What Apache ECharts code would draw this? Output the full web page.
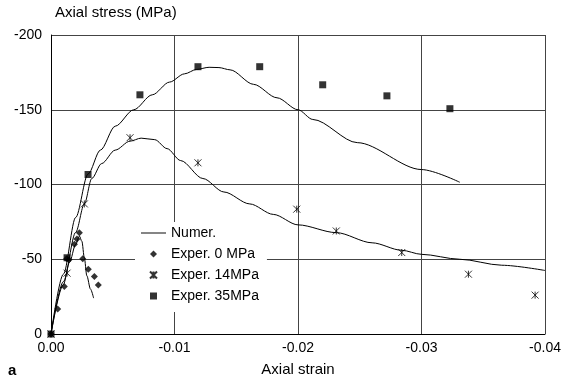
<!DOCTYPE html>
<html>
<head>
<meta charset="utf-8">
<title>Axial stress vs axial strain</title>
<script src="https://cdn.jsdelivr.net/npm/echarts@6/dist/echarts.min.js"></script>
<style>
  html, body { margin: 0; padding: 0; background: #fff; }
  #chart { width: 573px; height: 382px; }
</style>
</head>
<body>
<div id="chart"></div>
<script>
// numerical curves (strain, stress)
const numStrain0 = [0, -0.001, -0.0015, -0.002, -0.0023, -0.0025, -0.0027, -0.0029, -0.0032, -0.00345];
const numStress0 = [0, -33, -48, -60, -65.5, -62, -51, -39, -30, -24];

const numStrain14 = [0, -0.001, -0.002, -0.0027, -0.0033, -0.0041, -0.0052, -0.0064, -0.0073, -0.0084, -0.0094, -0.0105, -0.0123, -0.0140, -0.0161, -0.0180, -0.0200, -0.0231, -0.0260, -0.0284, -0.0300, -0.0331, -0.0365, -0.0400];
const numStress14 = [0, -35, -68, -87, -104, -114, -123, -129, -131, -130, -124, -116, -104, -95, -87, -80, -73, -67.8, -61, -56, -53.3, -50, -46, -42.5];

const numStrain35 = [0, -0.001, -0.002, -0.0030, -0.0040, -0.0052, -0.0067, -0.0082, -0.0096, -0.0108, -0.0118, -0.0128, -0.0136, -0.0145, -0.0164, -0.0183, -0.0200, -0.0212, -0.0248, -0.0300, -0.0331];
const numStress35 = [0, -40, -78, -107, -123, -139, -150, -160, -168.5, -174, -177, -178.4, -178.2, -176.7, -167, -158, -150, -143.5, -128, -110, -101.5];

// experimental points
const expStrain0 = [0, -0.00054, -0.00108, -0.00127, -0.00146, -0.0019, -0.0021, -0.0023, -0.00257, -0.00302, -0.00351, -0.00383];
const expStress0 = [0, -16.7, -31.8, -50.4, -49.6, -60, -63.5, -67.8, -50.4, -43.3, -38.4, -32.7];

const expStrain14 = [0, -0.0013, -0.0027, -0.0064, -0.0119, -0.0199, -0.0231, -0.0284, -0.0338, -0.0392];
const expStress14 = [0, -40.7, -87, -131.3, -114.5, -83.5, -68.9, -54.5, -40, -26];

const expStrain35 = [0, -0.0013, -0.0030, -0.0072, -0.0119, -0.0169, -0.0220, -0.0272, -0.0323];
const expStress35 = [0, -51, -106.7, -160, -178.8, -178.8, -166.7, -159.3, -150.7];

const xTicks = [0, -0.01, -0.02, -0.03, -0.04];
const yTicks = [0, -50, -100, -150, -200];

const zip = (xs, ys) => xs.map((x, i) => [x, ys[i]]);

const fontFamily = "'Liberation Sans', Arial, sans-serif";
// marker shapes as paths so the legend keeps their aspect
const starPath = "path://M0,0L10,10M10,0L0,10M5,0L5,10";
const diamondPath = "path://M5,0L10,5L5,10L0,5Z";
const squarePath = "path://M0,0L10,0L10,10L0,10Z";
const linePath = "path://M0,0L26,0L26,1L0,1Z";

const chart = echarts.init(document.getElementById("chart"));

const lineStyle = { color: "#000", width: 1 };
const numSeries = (data) => ({
  name: "Numer.",
  type: "line",
  data: data,
  showSymbol: false,
  symbol: "none",
  smooth: 0.3,
  smoothMonotone: "x",
  lineStyle: lineStyle,
  itemStyle: { color: "#000" },
  z: 3,
});

const option = {
  animation: false,
  textStyle: { fontFamily: fontFamily, color: "#000" },
  grid: { left: 51, right: 28, top: 35, bottom: 47, containLabel: false },
  legend: {
    orient: "vertical",
    left: 135,
    top: 222,
    padding: [4, 8, 9, 6],
    itemGap: 7,
    itemWidth: 25,
    itemHeight: 7,
    symbolKeepAspect: true,
    backgroundColor: "#fff",
    textStyle: { fontSize: 14, color: "#000", fontFamily: fontFamily },
    data: [
      { name: "Numer.", icon: linePath },
      { name: "Exper. 0 MPa", icon: diamondPath },
      { name: "Exper. 14MPa", icon: starPath },
      { name: "Exper. 35MPa", icon: squarePath },
    ],
    z: 2,
  },
  xAxis: {
    type: "value",
    min: xTicks[4],
    max: xTicks[0],
    interval: 0.01,
    inverse: true,
    name: "Axial strain",
    nameLocation: "middle",
    nameGap: 28,
    nameTextStyle: { fontSize: 15, color: "#000", fontFamily: fontFamily },
    axisLine: { show: true, onZero: false, lineStyle: { color: "#000", width: 1 } },
    axisTick: { show: false },
    axisLabel: {
      margin: 7,
      fontSize: 14,
      color: "#000",
      fontFamily: fontFamily,
      formatter: (v) => (Math.abs(v) < 1e-9 ? "0.00" : v.toFixed(2)),
    },
    splitLine: { show: true, lineStyle: { color: "#444", width: 1 } },
  },
  yAxis: {
    type: "value",
    min: yTicks[4],
    max: yTicks[0],
    interval: 50,
    inverse: true,
    axisLine: { show: true, onZero: false, lineStyle: { color: "#000", width: 1 } },
    axisTick: { show: false },
    axisLabel: {
      margin: 9,
      fontSize: 14,
      color: "#000",
      fontFamily: fontFamily,
      formatter: (v) => String(Math.round(v)),
    },
    splitLine: { show: true, lineStyle: { color: "#444", width: 1 } },
  },
  graphic: [
    {
      type: "text",
      left: 55,
      top: 5,
      style: { text: "Axial stress (MPa)", font: "15px " + fontFamily, fill: "#000" },
    },
    {
      type: "text",
      left: 8,
      top: 363,
      style: { text: "a", font: "bold 15px " + fontFamily, fill: "#000" },
    },
  ],
  series: [
    numSeries(zip(numStrain0, numStress0)),
    numSeries(zip(numStrain14, numStress14)),
    numSeries(zip(numStrain35, numStress35)),
    {
      name: "Exper. 0 MPa",
      type: "scatter",
      data: zip(expStrain0, expStress0),
      symbol: diamondPath,
      symbolSize: 7,
      itemStyle: { color: "#000" },
      z: 4,
    },
    {
      name: "Exper. 14MPa",
      type: "scatter",
      data: zip(expStrain14, expStress14),
      symbol: starPath,
      symbolSize: 7,
      itemStyle: { color: "#000", borderColor: "#000", borderWidth: 1 },
      z: 4,
    },
    {
      name: "Exper. 35MPa",
      type: "scatter",
      data: zip(expStrain35, expStress35),
      symbol: squarePath,
      symbolSize: 7,
      itemStyle: { color: "#000" },
      z: 4,
    },
  ],
};

chart.setOption(option);
</script>
</body>
</html>
